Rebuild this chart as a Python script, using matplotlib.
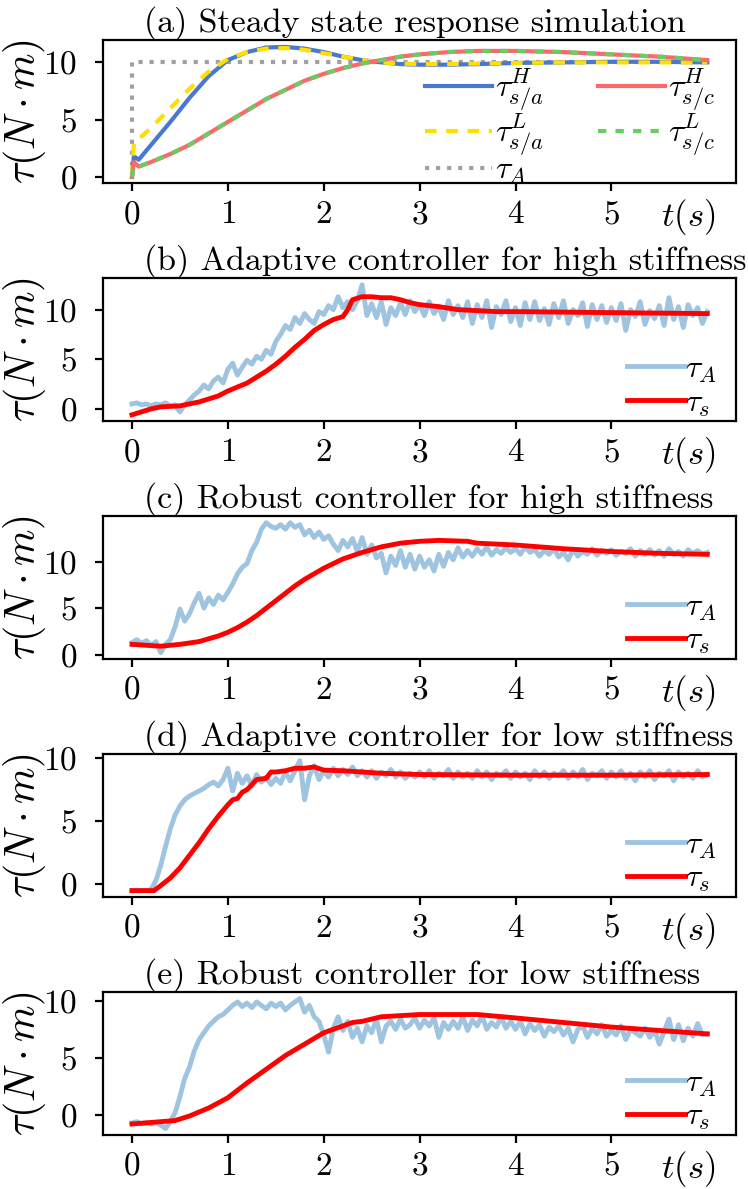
import numpy as np
import matplotlib
matplotlib.use("Agg")
import matplotlib.pyplot as plt

plt.rcParams["font.family"] = "serif"
plt.rcParams["font.serif"] = ["cmr10", "DejaVu Serif"]
plt.rcParams["mathtext.fontset"] = "cm"
plt.rcParams["axes.unicode_minus"] = False
plt.rcParams["axes.formatter.use_mathtext"] = True

# ---- panel (a): simulated steady state response ----
t_sim = [0, 0.02, 0.07, 0.2, 0.4, 0.6, 0.8, 1.0, 1.2, 1.4, 1.6, 1.8, 2.0,
         2.2, 2.4, 2.6, 2.8, 3.0, 3.3, 3.6, 4.0, 4.5, 5.0, 5.5, 6.0]
tau_sa_H = [0, 1.8, 1.5, 2.8, 4.8, 6.9, 8.8, 10.2, 10.9, 11.3, 11.35, 11.2, 10.9,
            10.5, 10.2, 10.0, 9.85, 9.8, 9.8, 9.85, 9.95, 10.0, 10.05, 10.05, 10.0]
tau_sa_L = [0, 3.0, 3.3, 4.3, 6.0, 7.7, 9.2, 10.3, 10.9, 11.2, 11.25, 11.1, 10.8,
            10.5, 10.2, 10.0, 9.9, 9.85, 9.85, 9.9, 9.95, 10.0, 10.0, 10.0, 10.0]
tau_sc_H = [0, 1.3, 0.9, 1.3, 2.0, 2.8, 3.8, 4.8, 5.8, 6.8, 7.6, 8.4, 9.0,
            9.5, 9.9, 10.2, 10.5, 10.7, 10.9, 11.0, 11.0, 10.9, 10.7, 10.5, 10.2]
tau_sc_L = [0, 1.0, 0.9, 1.3, 2.0, 2.8, 3.8, 4.8, 5.8, 6.8, 7.6, 8.4, 9.0,
            9.5, 9.9, 10.2, 10.5, 10.7, 10.9, 11.0, 11.0, 10.9, 10.7, 10.5, 10.2]
t_ref = [0, 0, 6.0]
tau_ref = [0, 10, 10]

# ---- panels (b)-(e): experiments ----
t_exp = np.round(np.arange(0, 6.0001, 0.05), 2)

tauA_b = [0.5, 0.6, 0.4, 0.5, 0.3, 0.5, 0.4, 0.6, 0.3, 0.4,
          -0.3, 0.4, 0.9, 1.4, 1.8, 2.4, 2.0, 2.8, 3.2, 2.6,
          4.0, 4.6, 3.4, 4.2, 4.9, 4.5, 5.3, 5.0, 5.9, 5.5,
          6.8, 7.5, 8.4, 8.0, 9.2, 8.6, 9.6, 9.0, 8.6, 9.8,
          9.5, 10.4, 10.0, 11.3, 10.2, 10.8, 10.0, 10.9, 12.5, 9.4,
          10.6, 9.2, 10.8, 8.5, 10.2, 9.4, 10.7, 9.5, 10.9, 9.8,
          10.5, 9.4, 10.8, 9.6, 10.3, 9.0, 10.9, 9.5, 10.4, 9.2,
          10.8, 8.6, 10.5, 9.2, 10.9, 8.2, 10.3, 9.5, 10.9, 8.8,
          10.2, 8.4, 10.7, 9.0, 10.8, 8.9, 10.1, 8.5, 10.6, 9.2,
          10.9, 8.6, 10.0, 9.4, 10.7, 8.3, 10.5, 9.0, 10.4, 8.7,
          10.2, 8.9, 10.6, 7.9, 10.0, 9.3, 10.8, 8.5, 9.9, 9.1,
          10.4, 8.4, 11.2, 9.0, 10.3, 8.2, 10.5, 9.4, 10.2, 8.6,
          9.8]
tauA_c = [1.3, 1.6, 1.2, 1.5, 1.0, 1.4, 0.2, 1.1, 1.6, 3.0,
          4.9, 3.6, 4.4, 5.6, 6.6, 5.0, 6.1, 5.4, 6.4, 5.9,
          6.7, 7.6, 8.7, 9.4, 9.8, 11.2, 12.1, 13.5, 14.2, 13.8,
          13.6, 14.0, 13.5, 14.2, 13.7, 14.0, 12.9, 13.4, 12.6, 13.2,
          12.4, 12.8, 11.9, 11.2, 12.3, 11.6, 12.5, 11.1, 12.6, 10.8,
          11.8, 10.4, 10.9, 8.8, 10.6, 9.6, 11.2, 9.4, 10.8, 9.2,
          10.6, 9.4, 10.2, 9.0, 10.8, 9.5, 11.0, 10.2, 11.5, 10.5,
          11.2, 10.6, 11.4, 10.8, 11.6, 10.7, 11.3, 10.9, 11.5, 11.0,
          11.4, 10.8, 11.6, 11.0, 11.3, 10.6, 11.2, 10.8, 11.4, 10.5,
          11.0, 10.2, 11.3, 10.6, 11.1, 10.8, 11.4, 10.7, 11.2, 10.9,
          11.3, 10.7, 11.1, 10.9, 11.4, 10.6, 11.2, 10.8, 11.3, 10.7,
          11.2, 10.6, 11.4, 10.8, 11.1, 10.6, 11.3, 10.9, 11.2, 10.8,
          11.0]
tauA_d = [-0.5, -0.5, -0.5, -0.5, -0.4, 0.3, 1.5, 3.0, 4.4, 5.5,
          6.2, 6.7, 7.0, 7.2, 7.4, 7.6, 7.9, 8.1, 7.8, 8.3,
          9.2, 7.4, 8.8, 8.0, 8.6, 7.8, 8.7, 8.1, 8.5, 7.9,
          8.4, 8.0, 8.9, 8.2, 9.0, 9.8, 6.7, 8.6, 9.4, 8.3,
          9.0, 8.5, 9.2, 8.6, 9.1, 8.7, 9.3, 8.6, 9.0, 8.5,
          9.0, 8.4, 8.9, 8.6, 9.1, 8.5, 8.9, 8.4, 8.8, 8.5,
          8.9, 8.5, 9.0, 8.4, 8.8, 8.6, 9.1, 8.4, 8.9, 8.5,
          8.8, 8.4, 9.0, 8.5, 8.9, 8.3, 8.8, 8.6, 9.0, 8.4,
          8.9, 8.5, 8.8, 8.3, 9.0, 8.5, 8.9, 8.4, 8.8, 8.6,
          9.0, 8.4, 8.9, 8.5, 9.1, 8.3, 8.8, 8.6, 9.0, 8.4,
          8.9, 8.5, 9.0, 8.4, 8.8, 8.2, 8.9, 8.5, 9.0, 8.3,
          8.8, 8.6, 9.0, 8.2, 8.9, 8.5, 8.8, 8.4, 9.0, 8.5,
          8.7]
tauA_e = [-0.7, -0.6, -0.8, -0.7, -0.8, -0.7, -0.9, -1.2, -0.6, 0.2,
          1.6, 3.2, 4.2, 5.6, 6.6, 7.2, 7.8, 8.2, 8.6, 8.8,
          9.2, 9.6, 9.9, 9.5, 9.8, 9.4, 9.9, 9.6, 9.3, 9.8,
          9.5, 9.8, 9.2, 9.6, 9.9, 10.2, 9.0, 9.6, 8.6, 8.2,
          7.0, 5.5, 7.6, 8.6, 7.4, 8.2, 6.8, 7.6, 6.4, 7.8,
          7.2, 8.4, 6.4, 7.8, 8.2, 7.5, 8.4, 7.6, 7.9, 8.5,
          7.6, 8.3, 7.8, 8.5, 6.8, 8.1, 7.5, 8.2, 7.6, 8.6,
          7.4, 8.3, 7.8, 8.7, 7.5, 8.1, 7.7, 8.6, 7.6, 8.2,
          7.5, 8.2, 7.1, 8.0, 7.4, 7.9, 6.9, 7.7, 7.3, 7.8,
          7.0, 7.6, 6.4, 7.5, 7.8, 6.8, 7.6, 7.1, 7.9, 6.9,
          7.4, 7.0, 7.8, 6.6, 7.5, 7.2, 6.9, 7.6, 6.8, 7.4,
          6.2, 7.3, 8.4, 6.6, 7.9, 6.5, 7.6, 6.9, 8.0, 7.0,
          7.1]

t_b = [0, 0.2, 0.3, 0.5, 0.6, 0.7, 0.8, 0.9, 1.0, 1.1, 1.2, 1.3, 1.4, 1.5,
       1.6, 1.7, 1.8, 1.9, 2.0, 2.1, 2.2, 2.25, 2.3, 2.4, 2.5, 2.6, 2.7,
       2.8, 2.9, 3.0, 3.2, 3.4, 3.6, 3.8, 4.0, 4.5, 5.0, 5.5, 6.0]
taus_b = [-0.6, 0.0, 0.2, 0.3, 0.5, 0.7, 1.0, 1.3, 1.8, 2.2, 2.6, 3.2, 3.8, 4.5,
          5.3, 6.2, 7.0, 7.9, 8.5, 9.0, 9.3, 10.0, 11.0, 11.3, 11.3, 11.2, 11.2,
          11.0, 10.7, 10.5, 10.3, 10.0, 9.9, 9.8, 9.8, 9.75, 9.7, 9.65, 9.6]
t_c = [0, 0.3, 0.5, 0.7, 0.9, 1.0, 1.1, 1.2, 1.3, 1.4, 1.5, 1.6, 1.7, 1.8,
       1.9, 2.0, 2.2, 2.4, 2.6, 2.8, 3.0, 3.2, 3.5, 3.6, 4.0, 4.5, 5.0, 5.5, 6.0]
taus_c = [1.1, 0.9, 1.1, 1.4, 2.0, 2.4, 2.9, 3.5, 4.2, 5.0, 5.8, 6.6, 7.4, 8.1,
          8.7, 9.3, 10.3, 11.0, 11.6, 12.0, 12.2, 12.3, 12.2, 12.0, 11.8, 11.4,
          11.1, 10.9, 10.8]
t_d = [0, 0.23, 0.3, 0.4, 0.5, 0.6, 0.7, 0.8, 0.9, 1.0, 1.05, 1.1, 1.15, 1.2,
       1.3, 1.4, 1.45, 1.5, 1.6, 1.7, 1.8, 1.9, 2.0, 2.2, 2.4, 2.6, 3.0, 4.0,
       5.0, 6.0]
taus_d = [-0.5, -0.5, -0.1, 0.5, 1.3, 2.3, 3.3, 4.4, 5.4, 6.3, 6.7, 6.8, 7.3,
          7.5, 8.3, 8.4, 8.9, 8.9, 9.0, 9.2, 9.2, 9.3, 9.05, 9.0, 8.9, 8.8, 8.7,
          8.65, 8.65, 8.7]
t_e = [0, 0.45, 0.6, 0.8, 1.0, 1.2, 1.4, 1.6, 1.8, 2.0, 2.2, 2.3, 2.4, 2.6,
       2.8, 3.0, 3.6, 4.0, 4.5, 5.0, 5.5, 6.0]
taus_e = [-0.8, -0.5, -0.1, 0.6, 1.5, 2.8, 4.0, 5.2, 6.2, 7.2, 7.8, 8.1, 8.2,
          8.6, 8.7, 8.8, 8.8, 8.5, 8.1, 7.7, 7.4, 7.1]

titles = ["(a) Steady state response simulation",
          "(b) Adaptive controller for high stiffness",
          "(c) Robust controller for high stiffness",
          "(d) Adaptive controller for low stiffness",
          "(e) Robust controller for low stiffness"]
xticks = [0, 1, 2, 3, 4, 5]
yticks = [0, 5, 10]

fs = 24
fig, axes = plt.subplots(5, 1, figsize=(7.48, 11.89), dpi=100)
fig.subplots_adjust(left=0.138, right=0.984, top=0.966, bottom=0.0454, hspace=0.664)

ax = axes[0]
l3, = ax.plot(t_ref, tau_ref, color="#a0a0a0", ls=":", lw=3.0, label=r"$\tau_A$", zorder=1)
l1, = ax.plot(t_sim, tau_sa_H, color="#4878d0", lw=3.0, label=r"$\tau_{s/a}^H$")
l2, = ax.plot(t_sim, tau_sa_L, color="#ffdf00", lw=3.0, ls=(0, (2.8, 2.3)), label=r"$\tau_{s/a}^L$")
l4, = ax.plot(t_sim, tau_sc_H, color="#f96a6a", lw=3.0, label=r"$\tau_{s/c}^H$")
l5, = ax.plot(t_sim, tau_sc_L, color="#6acc64", lw=3.0, ls=(0, (2, 2.2)), label=r"$\tau_{s/c}^L$")
ax.legend(handles=[l1, l2, l3, l4, l5], ncol=2, loc="lower right", frameon=False,
          fontsize=fs - 1, handlelength=2.1, handletextpad=0.1, columnspacing=1.7,
          labelspacing=-0.05, borderaxespad=0.0, bbox_to_anchor=(0.988, -0.11))

exp = [(tauA_b, t_b, taus_b), (tauA_c, t_c, taus_c),
       (tauA_d, t_d, taus_d), (tauA_e, t_e, taus_e)]
for ax, (tauA, ts, taus) in zip(axes[1:], exp):
    ax.plot(t_exp, tauA, color="#9fc4e0", lw=3.5, label=r"$\tau_A$")
    ax.plot(ts, taus, color="#ff0000", lw=3.5, label=r"$\tau_s$")
    ax.legend(loc="lower right", frameon=False, fontsize=fs - 1, handlelength=1.8,
              handletextpad=0.0, labelspacing=0.12, borderaxespad=0.0,
              bbox_to_anchor=(0.99, -0.07))

for ax, title in zip(axes, titles):
    ax.set_title(title, fontsize=fs + 0.5, x=0.064, ha="left", pad=3)
    ax.set_xticks(xticks)
    ax.set_yticks(yticks)
    ax.tick_params(labelsize=fs, length=6, width=1.6)
    ax.tick_params(axis="x", pad=6)
    ax.tick_params(axis="y", pad=13)
    for sp in ax.spines.values():
        sp.set_linewidth(1.6)
    ax.set_ylabel(r"$\tau(N\cdot m)$", fontsize=30)
    ax.yaxis.set_label_coords(-0.088, 0.5)
    ax.annotate(r"$t(s)$", xy=(5.8, 0), xycoords=("data", "axes fraction"),
                xytext=(0, -10), textcoords="offset points", ha="center", va="top",
                fontsize=fs + 1)

fig.savefig("out.png", dpi=100)
